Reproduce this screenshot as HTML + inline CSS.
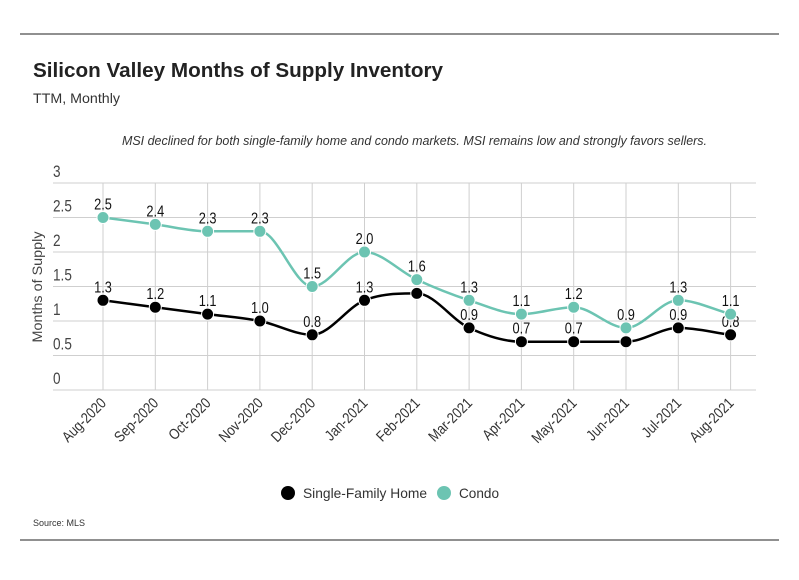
<!DOCTYPE html>
<html><head><meta charset="utf-8"><style>
html,body{margin:0;padding:0;background:#fff;}
body{width:799px;height:575px;overflow:hidden;font-family:"Liberation Sans",sans-serif;}
text{font-family:"Liberation Sans",sans-serif;}
</style></head><body>
<svg id="chart" width="799" height="575" xmlns="http://www.w3.org/2000/svg">
<line x1="20" y1="34" x2="779" y2="34" stroke="#222" stroke-width="1"/>
<line x1="20" y1="540" x2="779" y2="540" stroke="#222" stroke-width="1"/>
<text x="33" y="77" font-size="20" font-weight="bold" fill="#222" textLength="410" lengthAdjust="spacingAndGlyphs">Silicon Valley Months of Supply Inventory</text>
<text x="33" y="103" font-size="14" fill="#333" textLength="87" lengthAdjust="spacingAndGlyphs">TTM, Monthly</text>
<text x="122" y="145" font-size="12.5" font-style="italic" fill="#333" textLength="585" lengthAdjust="spacingAndGlyphs">MSI declined for both single-family home and condo markets. MSI remains low and strongly favors sellers.</text>
<g id="grid"></g>
<g id="series"></g>
<text transform="translate(42,287) rotate(-90)" font-size="14" fill="#444" text-anchor="middle" textLength="111" lengthAdjust="spacingAndGlyphs">Months of Supply</text>
<g>
<circle cx="288" cy="493" r="7" fill="#000"/>
<text x="303" y="498" font-size="14" fill="#333" textLength="124" lengthAdjust="spacingAndGlyphs">Single-Family Home</text>
<circle cx="444" cy="493" r="7" fill="#6cc4b2"/>
<text x="459" y="498" font-size="14" fill="#333" textLength="40" lengthAdjust="spacingAndGlyphs">Condo</text>
</g>
<text x="33" y="526" font-size="9" fill="#333">Source:  MLS</text>
</svg>
<script>
const categories=["Aug-2020","Sep-2020","Oct-2020","Nov-2020","Dec-2020","Jan-2021","Feb-2021","Mar-2021","Apr-2021","May-2021","Jun-2021","Jul-2021","Aug-2021"];
const singleFamily=[1.3,1.2,1.1,1.0,0.8,1.3,1.4,0.9,0.7,0.7,0.7,0.9,0.8];
const singleFamilyLabels=["1.3","1.2","1.1","1.0","0.8","1.3","","0.9","0.7","0.7","","0.9","0.8"];
const condo=[2.5,2.4,2.3,2.3,1.5,2.0,1.6,1.3,1.1,1.2,0.9,1.3,1.1];
const condoLabels=["2.5","2.4","2.3","2.3","1.5","2.0","1.6","1.3","1.1","1.2","0.9","1.3","1.1"];
const yTicks=[0,0.5,1,1.5,2,2.5,3];
const yTickLabels=["0","0.5","1","1.5","2","2.5","3"];
const NS="http://www.w3.org/2000/svg";
const x0=103,step=52.3,yBase=390,yPer=69,left=53,right=756;
const xs=i=>x0+i*step;
const ys=v=>yBase-v*yPer;
function mk(tag,attrs,parent){const e=document.createElementNS(NS,tag);for(const k in attrs)e.setAttribute(k,attrs[k]);parent.appendChild(e);return e;}
const grid=document.getElementById('grid'),ser=document.getElementById('series');
yTicks.forEach((t,i)=>{
 const l=mk('line',{x1:left,x2:right,y1:ys(t),y2:ys(t),stroke:'#cfcfcf','stroke-width':1},grid);
 
 
 const tx=mk('text',{x:0,y:0,'font-size':17,fill:'#444',transform:`translate(${left},${ys(t)-6}) scale(0.8,1)`},grid);
 tx.textContent=yTickLabels[i];
 
 
});
categories.forEach((c,i)=>{
 const l=mk('line',{x1:xs(i),x2:xs(i),y1:ys(3),y2:ys(0),stroke:'#cfcfcf','stroke-width':1},grid);
 
 
 const tx=mk('text',{transform:`translate(${xs(i)+4},${ys(0)+14}) rotate(-45) scale(0.85,1)`,'font-size':15,fill:'#333','text-anchor':'end'},grid);
 tx.textContent=c;
 
 
});
function monotone(pts){
 const n=pts.length,d=[],m=[];
 for(let i=0;i<n-1;i++)d.push((pts[i+1][1]-pts[i][1])/(pts[i+1][0]-pts[i][0]));
 for(let i=0;i<n;i++){
  if(i==0)m.push(d[0]);else if(i==n-1)m.push(d[n-2]);
  else m.push(d[i-1]*d[i]<=0?0:(d[i-1]+d[i])/2);
 }
 for(let i=0;i<n-1;i++){if(d[i]==0){m[i]=0;m[i+1]=0;}else{const a=m[i]/d[i],b=m[i+1]/d[i],s=a*a+b*b;if(s>9){const t=3/Math.sqrt(s);m[i]=t*a*d[i];m[i+1]=t*b*d[i];}}}
 let p=`M${pts[0][0]},${pts[0][1]}`;
 for(let i=0;i<n-1;i++){const h=(pts[i+1][0]-pts[i][0])/3;
  p+=` C${pts[i][0]+h},${pts[i][1]+m[i]*h} ${pts[i+1][0]-h},${pts[i+1][1]-m[i+1]*h} ${pts[i+1][0]},${pts[i+1][1]}`;}
 return p;
}
function draw(vals,labels,color,name){
 const pts=vals.map((v,i)=>[xs(i),ys(v)]);
 const p=mk('path',{d:monotone(pts),fill:'none',stroke:color,'stroke-width':2.5},ser);
 
 
 vals.forEach((v,i)=>{
  const c=mk('circle',{cx:xs(i),cy:ys(v),r:6,fill:color,stroke:'#fff','stroke-width':1},ser);
  
  
  if(labels[i]){
   const t=mk('text',{x:0,y:0,'font-size':16,fill:'#111','text-anchor':'middle',transform:`translate(${xs(i)},${ys(v)-8}) scale(0.8,1)`},ser);
   t.textContent=labels[i];
   
   
  }
 });
}
draw(singleFamily,singleFamilyLabels,'#000','single-family');
draw(condo,condoLabels,'#6cc4b2','condo');
</script>
</body></html>
